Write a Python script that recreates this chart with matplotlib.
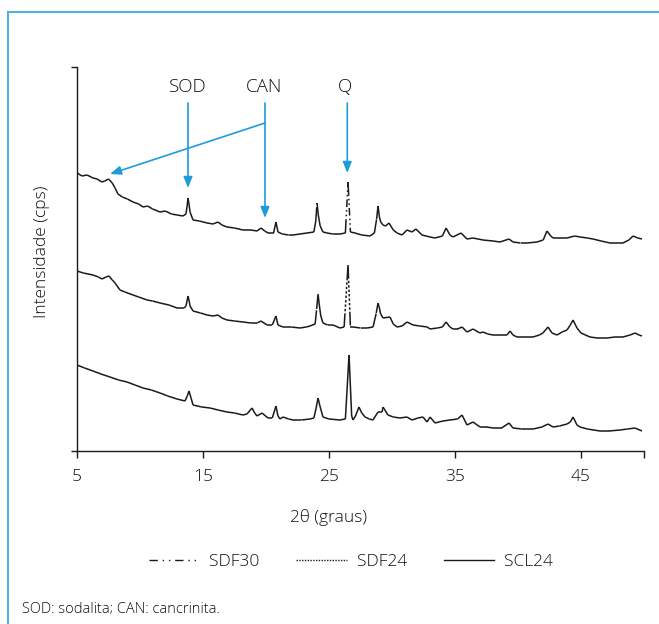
import numpy as np
import matplotlib
matplotlib.use('Agg')
import matplotlib.pyplot as plt
from matplotlib.collections import LineCollection
from matplotlib.lines import Line2D

plt.rcParams['font.family'] = ['Open Sans', 'DejaVu Sans']
plt.rcParams['font.weight'] = 'light'

# 2theta (graus) and intensity readings (arbitrary cps, curves stacked)
sdf30_x = [5.00, 5.40, 5.80, 6.27, 6.60, 6.98, 7.20, 7.50, 7.80, 8.02, 8.25, 8.60, 9.00, 9.44, 9.90,
           10.24, 10.60, 11.00, 11.59, 12.00, 12.50, 12.94, 13.40, 13.65, 13.74, 13.81, 13.90, 13.97,
           14.21, 14.70, 15.32, 15.80, 16.19, 16.50, 16.90, 17.50, 18.17, 18.80, 19.30, 19.60, 19.90,
           20.16, 20.60, 20.79, 20.95, 21.30, 21.80, 22.14, 22.70, 23.25, 23.80, 23.95, 24.05, 24.15,
           24.30, 24.52, 24.84, 25.30, 25.87, 26.30, 26.51, 26.70, 27.06, 27.60, 28.25, 28.60, 28.78,
           28.89, 29.00, 29.10, 29.29, 29.50, 29.76, 30.10, 30.40, 30.79, 31.19, 31.59, 31.90, 32.38,
           33.02, 33.41, 34.00, 34.29, 34.60, 34.84, 35.48, 35.95, 36.43, 37.22, 38.02, 38.57, 39.29,
           39.60, 40.20, 40.71, 41.51, 42.00, 42.30, 42.60, 42.78, 43.40, 43.89, 44.50, 44.92, 45.50,
           45.95, 46.60, 47.30, 48.33, 48.80, 49.13, 49.50, 49.84]
sdf30_y = [278, 275, 276, 273, 272, 269, 270, 272, 268, 263, 257, 254, 252, 249, 247,
           244, 245, 242, 239, 240, 237, 236, 235, 237, 245, 253, 246, 239,
           231, 230, 228, 227, 229, 226, 224, 223, 221, 221, 220, 223, 220,
           218, 218, 229, 219, 217, 216, 216, 217, 218, 219, 230, 248, 236,
           225, 219, 218, 217, 217, 218, 269, 219, 218, 216, 215, 218, 232,
           245, 234, 229, 226, 225, 228, 221, 218, 216, 221, 219, 222, 216,
           214, 213, 215, 223, 216, 214, 218, 212, 213, 211, 210, 209, 212,
           209, 208, 208, 209, 211, 220, 215, 213, 213, 213, 215, 214, 213,
           212, 210, 208, 208, 211, 215, 213, 212]

sdf24_x = [5.00, 5.50, 6.27, 6.70, 6.98, 7.30, 7.54, 7.80, 8.02, 8.41, 8.80, 9.44, 9.90, 10.56,
           11.00, 11.59, 12.30, 12.94, 13.50, 13.65, 13.73, 13.81, 13.90, 13.97, 14.21, 14.80,
           15.32, 15.80, 16.19, 16.50, 16.90, 17.50, 18.17, 18.80, 19.30, 19.60, 20.08, 20.50,
           20.79, 20.95, 21.35, 22.00, 22.70, 23.20, 23.49, 23.90, 24.02, 24.13, 24.24, 24.35,
           24.52, 24.90, 25.32, 25.87, 26.20, 26.51, 26.70, 26.90, 27.50, 28.02, 28.50, 28.75,
           28.89, 29.00, 29.10, 29.29, 29.84, 30.10, 30.40, 30.80, 31.19, 31.67, 32.20, 32.80,
           33.02, 33.60, 34.00, 34.29, 34.60, 34.84, 35.20, 35.56, 35.95, 36.43, 36.98, 37.22,
           37.60, 38.02, 38.60, 39.13, 39.37, 39.60, 39.92, 40.50, 41.19, 41.70, 41.98, 42.38,
           42.70, 43.10, 43.50, 43.89, 44.15, 44.37, 44.68, 45.00, 45.71, 46.30, 47.06, 47.70,
           48.33, 48.90, 49.29, 49.60, 49.84]
sdf24_y = [180, 178, 176, 174, 172, 174, 175, 171, 168, 161, 159, 156, 154, 151,
           150, 148, 146, 143, 143, 145, 150, 155, 150, 145, 140, 138,
           136, 135, 136, 133, 131, 130, 129, 128, 128, 130, 126, 126,
           135, 126, 124, 124, 123, 124, 125, 127, 142, 157, 145, 135,
           128, 126, 126, 123, 124, 186, 124, 124, 123, 123, 124, 138,
           148, 143, 137, 133, 134, 127, 124, 125, 129, 126, 125, 124,
           122, 123, 124, 129, 124, 122, 122, 124, 119, 122, 118, 119,
           117, 116, 116, 116, 120, 116, 114, 114, 114, 116, 118, 124,
           118, 116, 119, 121, 126, 131, 123, 118, 114, 113, 113, 114,
           114, 116, 118, 116, 115]

scl24_x = [5.00, 5.60, 6.27, 6.90, 7.62, 8.30, 8.97, 9.60, 10.24, 10.90, 11.59, 12.20, 12.94,
           13.57, 13.75, 13.89, 14.05, 14.21, 14.90, 15.56, 16.20, 16.90, 17.50, 18.17, 18.49,
           18.89, 19.10, 19.29, 19.68, 20.16, 20.50, 20.79, 20.95, 21.11, 21.35, 21.80, 22.14,
           22.80, 23.49, 23.80, 23.98, 24.13, 24.28, 24.52, 25.00, 25.87, 26.30, 26.59, 26.80,
           26.90, 27.10, 27.38, 27.60, 27.86, 28.20, 28.49, 28.89, 29.21, 29.29, 29.68, 30.10,
           30.63, 31.19, 31.59, 32.06, 32.46, 32.78, 33.02, 33.41, 34.05, 34.60, 35.20, 35.56,
           35.95, 36.43, 36.98, 37.50, 38.02, 38.70, 39.29, 39.60, 40.30, 41.19, 41.90, 42.38,
           42.78, 43.30, 43.89, 44.15, 44.37, 44.68, 44.92, 45.50, 46.51, 47.20, 48.10, 48.70,
           49.29, 49.84]
scl24_y = [86, 83, 80, 77, 74, 71, 69, 66, 63, 61, 58, 55, 52,
           50, 55, 60, 53, 46, 44, 43, 41, 39, 38, 36, 37,
           43, 38, 35, 38, 33, 33, 45, 35, 32, 34, 32, 31,
           31, 32, 33, 43, 53, 45, 34, 32, 31, 32, 96, 35,
           31, 35, 44, 38, 34, 32, 31, 39, 39, 44, 36, 34,
           33, 34, 31, 33, 34, 29, 34, 28, 30, 31, 32, 36,
           26, 29, 24, 24, 23, 23, 28, 23, 22, 22, 24, 27,
           24, 25, 27, 29, 34, 26, 24, 22, 20, 20, 21, 22,
           23, 20]

legend_labels = ['SDF30', 'SDF24', 'SCL24']
x_ticks = [5, 15, 25, 35, 45, 50]
x_ticklabels = ['5', '15', '25', '35', '45', '']

# phase markers: label, text x, arrow x, arrow tip y
phase_labels = ['SOD', 'CAN', 'Q']
phase_text_x = [13.81, 19.84, 26.25]
phase_arrow_x = [13.81, 19.92, 26.45]
phase_tip_y = [263, 233, 278]
can_extra_tip = (7.62, 277)

ink = '#1a1a1a'
txt = '#111111'
blue = '#1e9cd7'

fig = plt.figure(figsize=(6.59, 6.24), dpi=100)
ax = fig.add_axes([77/659, 1 - 451/624, (644 - 77)/659, (451 - 67)/624])

# each segment drawn separately so the dash pattern restarts (short steps look solid)
styles = [(0, (9, 2, 1, 2, 1, 2, 5, 2, 1, 2, 1, 2, 5, 2, 1, 2, 1, 2)),
          (0, (9, 1.3, 1.6, 1.3, 1.6, 1.3, 1.6, 1.3, 1.6, 1.3, 1.6, 1.3, 1.6, 1.3, 1.6, 1.3)),
          'solid']
for xs, ys, ls in zip([sdf30_x, sdf24_x, scl24_x], [sdf30_y, sdf24_y, scl24_y], styles):
    pts = np.column_stack([xs, ys])
    segs = np.stack([pts[:-1], pts[1:]], axis=1)
    ax.add_collection(LineCollection(segs, colors=ink, linewidths=1.1, linestyles=[ls]))

ax.set_xlim(5, 50)
ax.set_ylim(0, 384)
ax.spines['top'].set_visible(False)
ax.spines['right'].set_visible(False)
for s in ['left', 'bottom']:
    ax.spines[s].set_color(ink)
    ax.spines[s].set_linewidth(1.0)
ax.set_xticks(x_ticks)
ax.set_xticklabels(x_ticklabels)
ax.set_yticks([0, 384])
ax.set_yticklabels([])
ax.tick_params(axis='x', direction='out', length=5, width=1.0, color=ink, labelsize=12.5, pad=8,
               labelcolor=txt)
ax.tick_params(axis='y', direction='out', length=4, width=1.0, color=ink)

arrow_kw = dict(arrowstyle='-|>,head_length=0.55,head_width=0.22', color=blue, lw=1.2,
                mutation_scale=12, shrinkA=0, shrinkB=0)
for lab, tx, axx, ty in zip(phase_labels, phase_text_x, phase_arrow_x, phase_tip_y):
    ax.text(tx, 364, lab, ha='center', va='center', fontsize=13.5, color=txt)
    ax.annotate('', xy=(axx, ty), xytext=(axx, 348), arrowprops=arrow_kw, annotation_clip=False)
ax.annotate('', xy=can_extra_tip, xytext=(phase_arrow_x[1], 328), arrowprops=arrow_kw,
            annotation_clip=False)

fig.text(329/659, 1 - 517/624, '2θ (graus)', ha='center', va='center', fontsize=12.5, color=txt)
fig.text(42/659, 1 - 252/624, 'Intensidade (cps)', ha='center', va='center', rotation=90,
         fontsize=12.5, color=txt)
fig.text(22/659, 1 - 609/624, 'SOD: sodalita; CAN: cancrinita.', ha='left', va='center',
         fontsize=10.5, color=txt)

handles = [Line2D([], [], color=ink, lw=1.0, linestyle=(0, (6, 3.5, 1, 3.5, 1, 3.5))),
           Line2D([], [], color=ink, lw=1.0, linestyle=(0, (1, 1))),
           Line2D([], [], color=ink, lw=1.0)]
fig.legend(handles, legend_labels, loc='center', bbox_to_anchor=(351/659, 1 - 562/624), ncol=3,
           frameon=False, fontsize=12.5, handlelength=2.9, handletextpad=0.6, columnspacing=2.1,
           labelcolor=txt)

# light blue frame (left and top edges visible)
fig.add_artist(Line2D([8/659, 8/659], [0, 1 - 12/624], transform=fig.transFigure, color='#4fb3dd', lw=1.5))
fig.add_artist(Line2D([8/659, 1], [1 - 12/624, 1 - 12/624], transform=fig.transFigure, color='#4fb3dd', lw=1.5))

fig.savefig('out.png', dpi=100)
